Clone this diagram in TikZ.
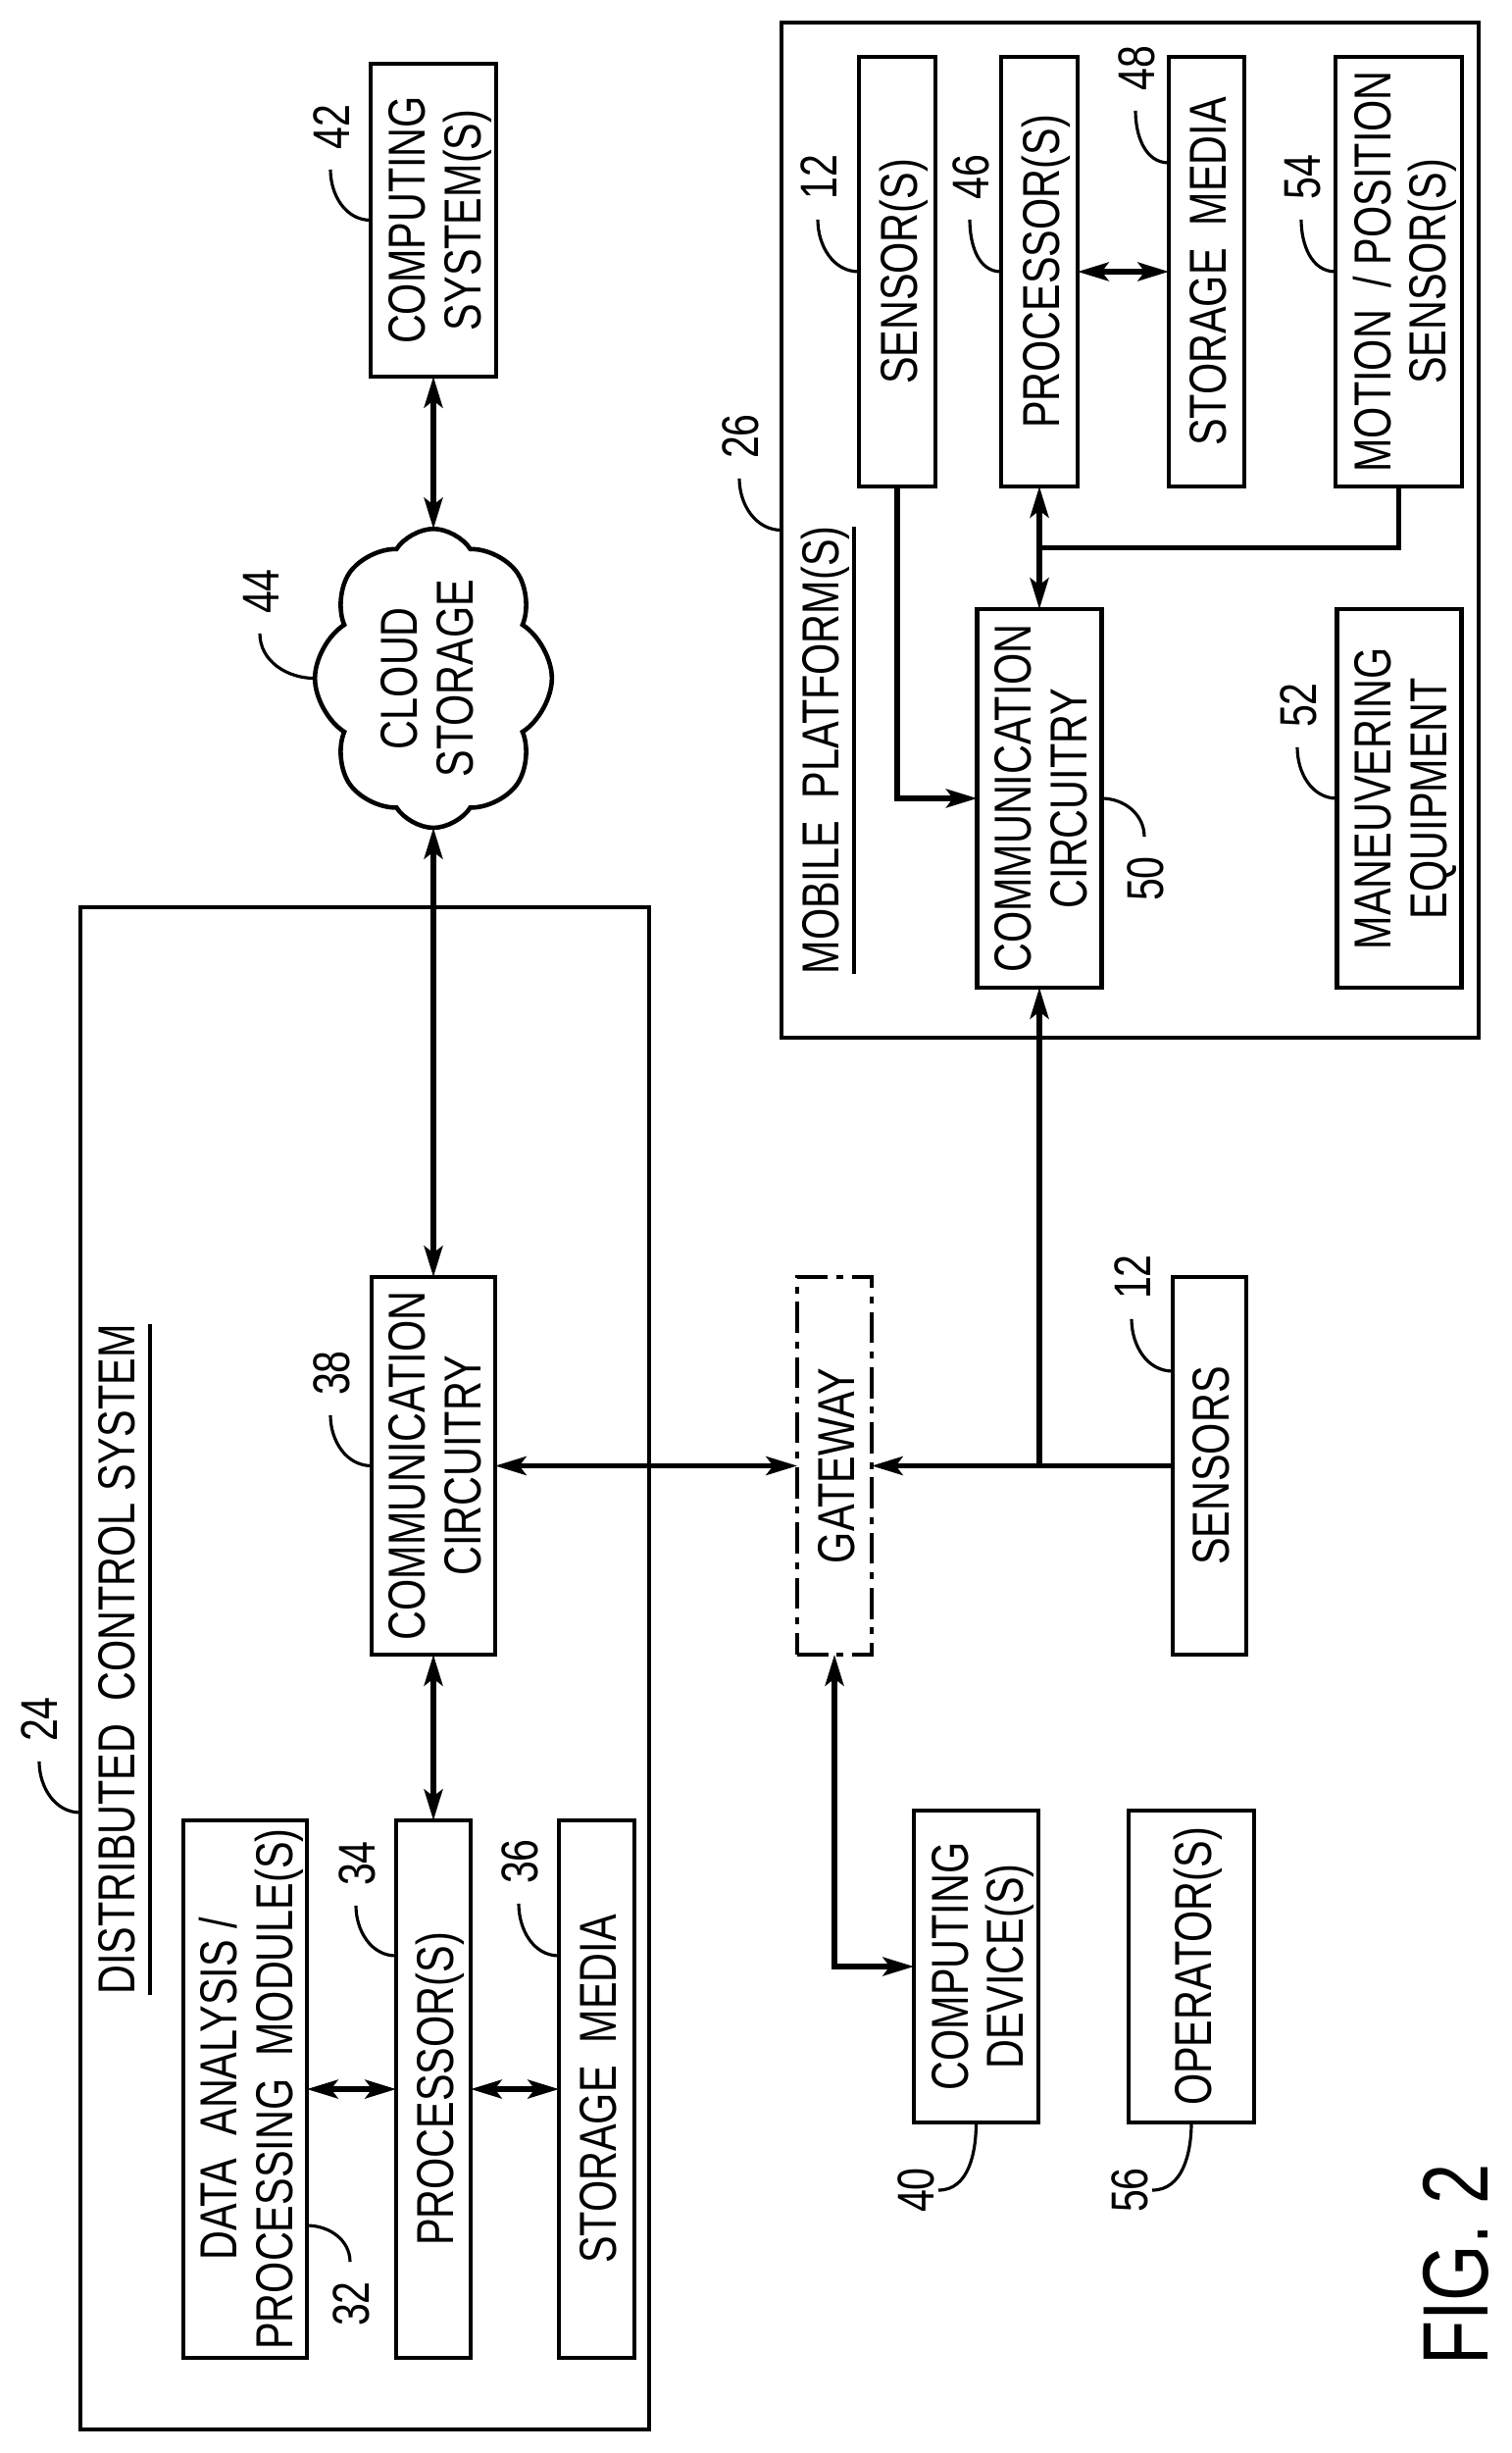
\documentclass[tikz,border=0pt]{standalone}
\usepackage{fontspec}
\usepackage{graphicx}
\setmainfont[FakeStretch=0.78]{Liberation Sans}
\usetikzlibrary{arrows.meta}
\usetikzlibrary{positioning}
\usetikzlibrary{shapes.symbols}
\tikzset{block node/.style={rectangle,draw,line width=1.3pt,inner sep=0pt,outer sep=0pt,font=\fontsize{15.1}{16}\selectfont}}
\tikzset{title node/.style={rotate=90,inner xsep=0pt,inner ysep=0.16cm,outer sep=0pt,text height=0.38cm,text depth=0pt,font=\fontsize{15.1}{16}\selectfont}}
\tikzset{tag node/.style={rotate=90,inner xsep=0.2cm,inner ysep=0.05cm,outer sep=0pt,text height=0.38cm,text depth=0pt,font=\fontsize{15}{15}\selectfont}}
\tikzset{link/.style={line width=1.45pt,>={Stealth[length=9pt,width=5.4pt,inset=2pt]}}}
\tikzset{lead/.style={line width=0.9pt}}
\newcommand{\vtext}[2][5pt]{\makebox[0pt]{\hspace*{#1}\rotatebox{90}{\begin{tabular}{@{}c@{}}#2\end{tabular}}}}

\begin{document}
\begin{tikzpicture}
	\useasboundingbox (0,0) rectangle (15.41,-25.01);

	\node[block node,minimum width=5.80cm,minimum height=15.52cm] (dcs) at (3.72,-17.01) {};
	\node[block node,minimum width=7.11cm,minimum height=10.35cm] (mobile) at (11.525,-5.405) {};
	\node[title node] (dcs_title) at (1.18,-16.92) {DISTRIBUTED~~CONTROL SYSTEM};
	\node[title node] (mobile_title) at (8.36,-7.65) {MOBILE~~PLATFORM(S)};
	\draw[lead] (dcs_title.south west) -- (dcs_title.south east);
	\draw[lead] (mobile_title.south west) -- (mobile_title.south east);

	\node[block node,minimum width=1.26cm,minimum height=3.85cm] (comm_{1}) at (4.42,-14.945) {\vtext{COMMUNICATION\\CIRCUITRY}};
	\node[block node,minimum width=0.76cm,minimum height=5.48cm] (proc_{1}) [below = 1.69cm of comm_{1}] {\vtext{PROCESSOR(S)}};
	\node[block node,minimum width=1.26cm,minimum height=5.48cm] (data) [left = 0.91cm of proc_{1}] {\vtext{DATA~~ANALYSIS /\\PROCESSING~~MODULE(S)}};
	\node[block node,minimum width=0.77cm,minimum height=5.48cm] (store_{1}) [right = 0.90cm of proc_{1}] {\vtext{STORAGE~~MEDIA}};
	\node[block node,dash pattern=on 9pt off 2.5pt on 2pt off 2.5pt,minimum width=0.76cm,minimum height=3.85cm] (gate) [right = 3.08cm of comm_{1}] {\vtext{GATEWAY}};
	\node[block node,minimum width=0.75cm,minimum height=3.85cm] (sensors) [right = 3.07cm of gate] {\vtext{SENSORS}};
	\node[block node,minimum width=1.27cm,minimum height=3.18cm] (device) at (9.955,-20.05) {\vtext{COMPUTING\\DEVICE(S)}};
	\node[block node,minimum width=1.28cm,minimum height=3.18cm] (operator) [right = 0.92cm of device] {\vtext{OPERATOR(S)}};
	\node[block node,minimum width=1.28cm,minimum height=3.19cm] (system) [above = 9.18cm of comm_{1}] {\vtext{COMPUTING\\SYSTEM(S)}};
	\node[block node,cloud,cloud puffs=8,cloud puff arc=115,aspect=0.69,minimum width=2.0cm,minimum height=2.82cm] (cloud) [above = 4.58cm of comm_{1}] {\vtext[0.4pt]{CLOUD\\STORAGE}};

	\node[block node,minimum width=0.78cm,minimum height=4.38cm] (sensor_{2}) at (9.15,-2.77) {\vtext{SENSOR(S)}};
	\node[block node,minimum width=0.78cm,minimum height=4.38cm] (proc_{2}) [right = 0.67cm of sensor_{2}] {\vtext{PROCESSOR(S)}};
	\node[block node,minimum width=0.77cm,minimum height=4.38cm] (store_{2}) [right = 0.93cm of proc_{2}] {\vtext{STORAGE~~MEDIA}};
	\node[block node,minimum width=1.29cm,minimum height=4.38cm] (motion) [right = 0.93cm of store_{2}] {\vtext{MOTION~~/ POSITION\\SENSOR(S)}};
	\node[block node,minimum width=1.27cm,minimum height=3.86cm] (comm_{2}) [below = 1.25cm of proc_{2}] {\vtext{COMMUNICATION\\CIRCUITRY}};
	\node[block node,minimum width=1.27cm,minimum height=3.86cm] (maneuver) [right = 2.40cm of comm_{2}] {\vtext{MANEUVERING\\EQUIPMENT}};

	\coordinate[below = 0.625cm of proc_{2}] (tap_{1});
	\coordinate (tap_{2}) at (sensors.west -| comm_{2}.south);

	\path[draw,link,<->]
	(system) edge (cloud)
	(comm_{1}) edge (cloud)
	(comm_{1}) edge (proc_{1})
	(data) edge (proc_{1})
	(proc_{1}) edge (store_{1})
	(comm_{1}) edge (gate)
	(proc_{2}) edge (store_{2})
	(proc_{2}) edge (comm_{2});

	\draw[link,->] (sensors) -- (gate);
	\draw[link,->] (tap_{2}) -- (comm_{2});
	\draw[link,<->] (gate.south) |- (device.west);
	\draw[link,->] (sensor_{2}.south) |- (comm_{2}.west);
	\draw[link] (motion.south) |- (tap_{1});

	\node[tag node] (t_{24}) at (0.40,-17.53) {24};
	\node[tag node] (t_{26}) at (7.54,-4.45) {26};
	\node[tag node] (t_{32}) at (3.57,-23.49) {32};
	\node[tag node] (t_{34}) at (3.63,-19.00) {34};
	\node[tag node] (t_{36}) at (5.29,-18.98) {36};
	\node[tag node] (t_{38}) at (3.37,-14.00) {38};
	\node[tag node] (t_{40}) at (9.33,-22.33) {40};
	\node[tag node] (t_{42}) at (3.37,-1.30) {42};
	\node[tag node] (t_{44}) at (2.65,-6.03) {44};
	\node[tag node] (t_{46}) at (9.89,-1.81) {46};
	\node[tag node] (t_{48}) at (11.58,-0.70) {48};
	\node[tag node] (t_{50}) at (11.67,-8.96) {50};
	\node[tag node] (t_{52}) at (13.23,-7.19) {52};
	\node[tag node] (t_{54}) at (13.27,-1.81) {54};
	\node[tag node] (t_{56}) at (11.51,-22.33) {56};
	\node[tag node] (t_{12a}) at (8.34,-1.81) {12};
	\node[tag node] (t_{12b}) at (11.54,-13.02) {12};

	\draw[lead] ([yshift=-1.47cm]dcs.west) to[out=180,in=-90] (t_{24}.west);
	\draw[lead] (mobile.west) to[out=180,in=-90] (t_{26}.west);
	\draw[lead] ([yshift=-1.39cm]data.east) to[out=0,in=90] (t_{32}.east);
	\draw[lead] ([yshift=1.36cm]proc_{1}.west) to[out=180,in=-90] (t_{34}.west);
	\draw[lead] ([yshift=1.36cm]store_{1}.west) to[out=180,in=-90] (t_{36}.west);
	\draw[lead] (comm_{1}.west) to[out=180,in=-90] (t_{38}.west);
	\draw[lead] (device.south) to[out=-90,in=0] (t_{40}.south);
	\draw[lead] (system.west) to[out=180,in=-90] (t_{42}.west);
	\draw[lead] (cloud.west) to[out=180,in=-90] (t_{44}.west);
	\draw[lead] (proc_{2}.west) to[out=180,in=-90] (t_{46}.west);
	\draw[lead] ([yshift=1.11cm]store_{2}.west) to[out=180,in=-90] (t_{48}.west);
	\draw[lead] (comm_{2}.east) to[out=0,in=90] (t_{50}.east);
	\draw[lead] (maneuver.west) to[out=180,in=-90] (t_{52}.west);
	\draw[lead] (motion.west) to[out=180,in=-90] (t_{54}.west);
	\draw[lead] (operator.south) to[out=-90,in=0] (t_{56}.south);
	\draw[lead] (sensor_{2}.west) to[out=180,in=-90] (t_{12a}.west);
	\draw[lead] ([yshift=0.965cm]sensors.west) to[out=180,in=-90] (t_{12b}.west);

	\node[rotate=90,inner sep=0pt,font=\fontsize{27}{27}\selectfont] (fig) at (14.85,-23.09) {FIG. 2};
\end{tikzpicture}
\end{document}
